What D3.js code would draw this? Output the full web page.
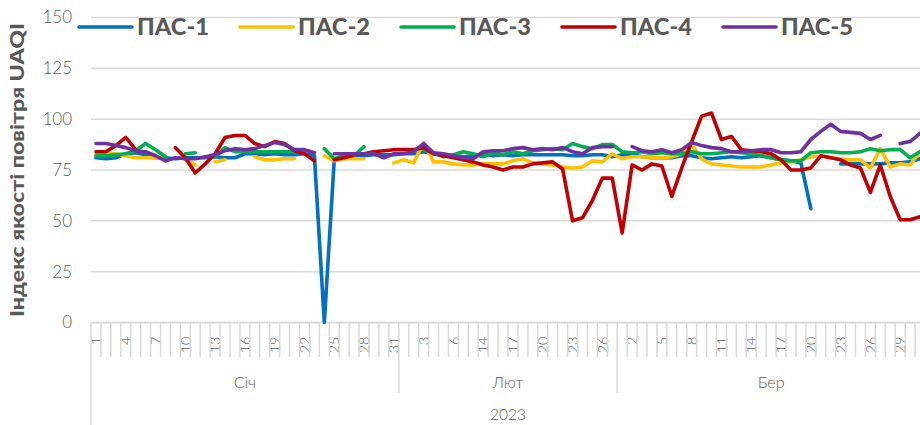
<!DOCTYPE html>
<html><head><meta charset="utf-8">
<script src="https://cdn.jsdelivr.net/npm/d3@7"></script>
<style>
body{margin:0;background:#fff;}
svg{display:block;font-family:Lato,"Open Sans",sans-serif;}
</style></head><body>
<svg id="c" width="920" height="425"></svg>
<script>
const months = ["Січ", "Лют", "Бер"];
const yearLabel = "2023";
const janDays = [1,2,3,4,5,6,7,8,9,10,11,12,13,14,15,16,17,18,19,20,21,22,23,24,25,26,27,28,29,30,31];
const febDays = [1,2,3,4,5,6,7,8,14,15,16,17,18,19,20,21,22,23,24,25,26,27];
const marDays = [1,2,3,4,5,6,7,8,9,10,11,12,13,14,15,16,17,18,19,20,21,22,23,24,25,26,27,28,29,30,31];
const yTicks = [0, 25, 50, 75, 100, 125, 150];
const yTitle = "Індекс якості повітря UAQI";
const seriesNames = ["ПАС-1", "ПАС-2", "ПАС-3", "ПАС-4", "ПАС-5"];
const seriesColors = ["#0070C0", "#FFC000", "#00B050", "#C00000", "#7030A0"];

const pas1 = [81,80.5,81,83,83.5,82.5,81,81,80.5,81, 81,81,81.5,81,81,83,83,82.5,83,82.5, 82.5,83,82,0,80,81.5,82,82,82.5,82.5,82.5,
  83,83,84,83,82.5,82,81.5,82,83,82,82.5,82,82.5,82.5,82.5,82.5,82.5,82,82,82.5,82.5,81.5,
  82.5,82.5,81.5,81,81,81,82,82,81,80.5, 81,81.5,81,81.5,82,81,80,79.5,78.5,56, null,null,78,78,78,78,78,78.5,78.5,79,80.5];
const pas2 = [82.5,83,83,82,81,81,81,81.5,null,80, 77.5,null,79,80,null,null,81.5,80,80,80.5, 80.5,null,null,82,79.5,80.5,80.5,80.5,null,null,78.5,
  80,78.5,88.5,79,79,78,77.5,77.5,78,78,78,79.5,80.5,78.5,78,77.5,76.5,76,76.5,79.5,79,83,
  80.5,81.5,81.5,81,81,81.5,83,87.5,80.5,78, 77.5,77,76.5,76.5,76.5,77.5,78.5,79,80,81.5, 82,81,80.5,80,80,76,85.5,76.5,78,77.5,84];
const pas3 = [82,82,82.5,83,84.5,88,85,81.5,null,83, 83.5,null,81.5,86,84,84,84,84,84,84, 84,84,null,85.5,80.5,82,82,86.5,null,null,null,
  null,null,85,83.5,81.5,82.5,84,83,81.5,83.5,82.5,84,83,84.5,85,85.5,85,88,86.5,85.5,87.5,87.5,
  84,83.5,84,83,83.5,83,83,84,83,83, 83.5,84,83.5,83,82,81,80,79.5,79.5,83.5, 84,84,83.5,83.5,84,85.5,84.5,85,85,81,84];
const pas4 = [84,84,87,91,85,null,null,null,86,81, 73.5,78,83,91,92,92,88,86.5,89,88, 84.5,83,79.5,null,80,81,82.5,83,84,84.5,85,
  85,85,86,83,82,81,80,79,77.5,76.5,75,76.5,76.5,78,78.5,79,75.5,50,51.5,60,71,71,
  44,77.5,75,78,77,62,76,89,101.5,103, 90,91.5,85,84.5,84,83,80,75,75,76, 82,81,80,77.5,76,64,77.5,62,50.5,50.5,52];
const pas5 = [88,88,87,86,84.5,84,82,79.5,81,80.5, 80.5,81.5,82.5,84.5,85.5,85,85.5,87,88.5,87.5, 85,85,83.5,null,83,83,83,83,83,81,83,
  83,84,88,83.5,83,82,81,80.5,84,84.5,84.5,85.5,86,85,85.5,85,86,84,83,86,86.5,86.5,
  null,86.5,84.5,84,85,83.5,85,88.5,87,86, 85.5,84,84,84.5,85,85,83.5,83.5,84,90, 94,97.5,94,93.5,93,90,92,null,88,89,93];

const seriesData = [pas1, pas2, pas3, pas4, pas5];

(function () {
const cats = [];
[janDays, febDays, marDays].forEach((arr, m) => arr.forEach(d => cats.push({day: d, month: m})));
const idx = cats.map((c, i) => i);

const svg = d3.select("#c");
const pLeft = 91, pRight = 925, pTop = 17.5, pBottom = 322.5;
const x = d3.scaleBand().domain(idx).range([pLeft, pRight]).padding(0);
const bw = x.bandwidth();
const y = d3.scaleLinear().domain([0, 150]).range([pBottom, pTop]);
const grey = "#d9d9d9", txt = "#595959";

svg.append("g").selectAll("line").data(yTicks).join("line")
  .attr("x1", pLeft).attr("x2", 920).attr("y1", d => y(d)).attr("y2", d => y(d))
  .attr("stroke", grey).attr("stroke-width", 1.5);

const yAxis = svg.append("g").attr("transform", `translate(${pLeft},0)`)
  .call(d3.axisLeft(y).tickValues(yTicks).tickSize(0).tickPadding(19));
yAxis.select(".domain").remove();
yAxis.selectAll("text").attr("fill", txt).style("font-size", "17px").style("font-weight", 300)
  .style("font-family", "Lato, sans-serif");

const xAxis = svg.append("g").attr("transform", `translate(0,${pBottom})`)
  .call(d3.axisBottom(x).tickValues(idx.filter(i => i % 3 === 0)).tickSize(0).tickFormat(i => cats[i].day));
xAxis.select(".domain").remove();
xAxis.selectAll("text")
  .attr("transform", "rotate(-90)").attr("y", 0).attr("x", -14).attr("dy", "0.36em")
  .attr("text-anchor", "end").attr("fill", txt)
  .style("font-size", "14.5px").style("font-weight", 300).style("font-family", "Lato, sans-serif");

svg.append("line").attr("x1", pLeft).attr("x2", 920).attr("y1", pBottom).attr("y2", pBottom)
  .attr("stroke", grey).attr("stroke-width", 1.5);

const bounds = d3.range(cats.length + 1);
const monthStarts = [0, janDays.length, janDays.length + febDays.length, cats.length];
svg.append("g").selectAll("line").data(bounds).join("line")
  .attr("x1", k => pLeft + k * bw).attr("x2", k => pLeft + k * bw)
  .attr("y1", pBottom)
  .attr("y2", k => k === 0 || k === cats.length ? 425 : (monthStarts.includes(k) ? 393 : 357))
  .attr("stroke", grey).attr("stroke-width", 1.5);

const monthRanges = [[0, janDays.length], [janDays.length, janDays.length + febDays.length], [janDays.length + febDays.length, cats.length]];
svg.append("g").selectAll("text").data(months).join("text")
  .attr("x", (d, m) => pLeft + (monthRanges[m][0] + monthRanges[m][1]) / 2 * bw)
  .attr("y", 382).attr("dy", "0.35em").attr("text-anchor", "middle")
  .attr("fill", txt).style("font-size", "16px").style("font-weight", 300).text(d => d);
svg.append("text").attr("x", (pLeft + pRight) / 2).attr("y", 415).attr("dy", "0.35em")
  .attr("text-anchor", "middle").attr("fill", txt).style("font-size", "15.5px").style("font-weight", 300)
  .text(yearLabel);

svg.append("text").attr("transform", "translate(18,170) rotate(-90)")
  .attr("text-anchor", "middle").attr("dy", "0.35em").attr("fill", txt)
  .attr("textLength", 294).attr("lengthAdjust", "spacingAndGlyphs")
  .style("font-size", "18px").style("font-weight", 900).text(yTitle);

const line = d3.line().defined(d => d.v != null)
  .x(d => x(d.i) + bw / 2).y(d => y(d.v));
seriesData.forEach((s, k) => {
  svg.append("path").datum(s.map((v, i) => ({i, v})))
    .attr("d", line).attr("fill", "none").attr("stroke", seriesColors[k])
    .attr("stroke-width", 3.6).attr("stroke-linejoin", "round").attr("stroke-linecap", "round");
});

const legX = [79, 240, 401, 562, 723];
const leg = svg.append("g").selectAll("g").data(seriesNames).join("g")
  .attr("transform", (d, k) => `translate(${legX[k]},27)`);
leg.append("line").attr("x1", 0).attr("x2", 53).attr("y1", 0).attr("y2", 0)
  .attr("stroke", (d, k) => seriesColors[k]).attr("stroke-width", 3.6).attr("stroke-linecap", "round");
leg.append("text").attr("x", 58).attr("dy", "0.35em").attr("fill", txt)
  .attr("textLength", 72).attr("lengthAdjust", "spacingAndGlyphs")
  .style("font-size", "22px").style("font-weight", 900).text(d => d);
})();
</script>
</body></html>
